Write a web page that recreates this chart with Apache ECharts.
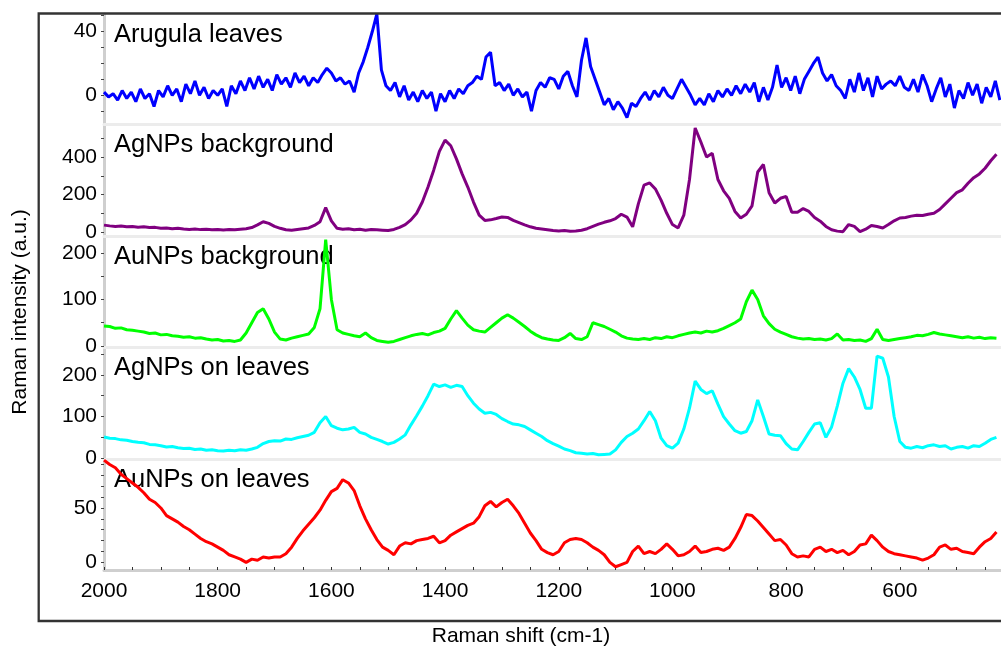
<!DOCTYPE html>
<html>
<head>
<meta charset="utf-8">
<script src="https://cdn.jsdelivr.net/npm/echarts@6/dist/echarts.min.js"></script>
<style>
  html, body { margin: 0; background: #fff; }
  #chart { width: 1001px; height: 649px; }
</style>
</head>
<body>
<div id="chart"></div>
<script>
// Raman shift grid: first point and spacing (cm-1) of each spectrum
const shiftStart = 2000;
const arugulaStep = 8;
const spectraStep = 10;

const arugula = [
  2, -1, 1, -3, 3, -2, 2, -4, 4, -2,
  1, -7, 3, -1, 6, 0, 4, -4, 7, 1,
  9, 0, 5, -2, 3, 0, 4, -7, 6, 1,
  9, 3, 11, 4, 12, 5, 10, 3, 13, 7,
  11, 5, 14, 8, 12, 6, 11, 8, 13, 17,
  14, 9, 11, 7, 9, 2, 14, 21, 30, 40,
  51, 16, 6, 3, 8, -1, 6, -3, 2, -4,
  3, -2, 2, -10, 1, -4, 3, -2, 4, 1,
  6, 8, 12, 10, 24, 27, 6, 8, 3, 7,
  0, 4, -1, 2, -10, 3, 8, 5, 11, 10,
  4, 12, 15, 6, -1, 22, 36, 18, 10, 2,
  -6, -2, -9, -4, -8, -14, -5, -7, -2, 2,
  -3, 3, -1, 5, 0, -2, 4, 10, 5, 0,
  -6, -2, -6, 1, -4, 3, -1, 4, 0, 6,
  1, 7, 2, 8, -4, 5, -3, 5, 19, 5,
  11, 3, 12, 1, 10, 15, 20, 24, 14, 9,
  13, 6, 3, -2, 10, 2, 14, 3, 11, -1,
  12, 4, 7, 9, 6, 12, 5, 3, 10, 2,
  13, 6, -4, 4, 11, -1, 7, -8, 3, -2,
  8, 0, 7, -5, 5, -1, 9, -3
];

const agBackground = [
  37, 33, 30, 32, 28, 30, 26, 28, 24, 25,
  20, 22, 18, 20, 16, 14, 16, 13, 15, 12,
  14, 11, 13, 12, 15, 18, 24, 38, 55, 46,
  30, 20, 12, 10, 14, 18, 22, 35, 55, 130,
  60, 20, 15, 18, 12, 15, 10, 14, 12, 10,
  8, 14, 25, 40, 65, 100, 160, 240, 330, 430,
  490, 460, 390, 310, 240, 160, 90, 62, 65, 72,
  80, 78, 62, 50, 38, 28, 20, 16, 12, 8,
  6, 8, 4, 6, 10, 18, 30, 42, 52, 60,
  72, 95, 80, 28, 150, 250, 262, 230, 170, 100,
  40, 22, 90, 280, 555, 480, 400, 420, 280, 220,
  180, 110, 75, 95, 140, 320, 360, 210, 155, 180,
  190, 105, 105, 125, 110, 78, 58, 30, 12, 5,
  2, 40, 30, 2, 15, 35, 30, 22, 40, 60,
  75, 78, 85, 90, 88, 95, 100, 120, 150, 180,
  210, 225, 260, 290, 310, 340, 380, 415
];

const auBackground = [
  43, 42, 38, 39, 35, 34, 32, 30, 27, 28,
  24, 25, 22, 21, 19, 20, 17, 18, 15, 13,
  14, 11, 12, 10, 13, 28, 50, 72, 80, 58,
  30, 15, 13, 17, 20, 23, 26, 40, 80, 228,
  100, 35, 28, 25, 22, 20, 28, 18, 12, 10,
  8, 10, 14, 18, 22, 25, 27, 24, 29, 32,
  38, 58, 76, 60, 45, 35, 32, 30, 40, 50,
  60, 67, 60, 51, 42, 32, 24, 18, 15, 13,
  12, 18, 27, 16, 14, 20, 50, 46, 42, 36,
  30, 22, 17, 15, 14, 16, 14, 18, 16, 20,
  18, 22, 25, 28, 30, 28, 32, 30, 33, 38,
  44, 50, 58, 95, 120, 100, 65, 48, 36, 30,
  25, 20, 17, 15, 16, 14, 15, 13, 16, 26,
  13, 14, 12, 13, 10, 16, 36, 14, 12, 14,
  16, 18, 20, 23, 22, 25, 29, 26, 24, 22,
  20, 18, 20, 17, 19, 16, 18, 17
];

const agLeaves = [
  51, 48, 47, 44, 43, 40, 38, 37, 33, 32,
  30, 27, 28, 25, 23, 24, 21, 22, 19, 20,
  18, 17, 19, 18, 20, 19, 22, 26, 35, 40,
  42, 41, 46, 45, 49, 52, 55, 62, 85, 100,
  78, 72, 68, 70, 74, 62, 58, 50, 45, 40,
  34, 38, 46, 56, 80, 102, 125, 150, 178, 172,
  176, 170, 175, 172, 150, 132, 118, 108, 110, 105,
  95, 88, 82, 80, 76, 68, 60, 52, 42, 35,
  29, 22, 18, 13, 12, 10, 11, 8, 9, 10,
  20, 38, 52, 60, 70, 90, 112, 90, 48, 30,
  24, 36, 70, 120, 185, 165, 155, 162, 130, 100,
  82, 66, 60, 64, 90, 140, 100, 58, 55, 54,
  35, 22, 20, 40, 62, 82, 85, 50, 75, 125,
  180, 215, 195, 165, 120, 120, 245, 240, 195, 100,
  40, 26, 24, 28, 25, 30, 32, 28, 30, 22,
  26, 28, 24, 30, 28, 36, 45, 50
];

const auLeaves = [
  94, 90, 87, 81, 77, 73, 69, 64, 58, 55,
  50, 43, 40, 37, 33, 30, 26, 22, 19, 17,
  14, 11, 7, 5, 3, 0, 3, 2, 5, 4,
  5, 5, 8, 14, 22, 29, 35, 41, 48, 57,
  65, 68, 76, 73, 66, 52, 40, 30, 21, 14,
  11, 7, 15, 18, 17, 20, 21, 22, 24, 18,
  20, 25, 28, 31, 34, 36, 42, 52, 56, 51,
  55, 58, 52, 45, 36, 27, 20, 12, 9, 7,
  10, 18, 21, 22, 21, 18, 14, 11, 7, 0,
  -4, -2, 0, 10, 15, 8, 10, 8, 12, 17,
  12, 6, 7, 10, 15, 9, 10, 12, 13, 11,
  14, 22, 32, 44, 43, 38, 32, 26, 20, 21,
  16, 8, 5, 6, 5, 12, 14, 10, 12, 9,
  11, 7, 10, 16, 17, 25, 20, 14, 10, 8,
  7, 6, 5, 4, 2, 4, 7, 14, 16, 12,
  13, 10, 9, 8, 14, 19, 22, 28
];

const panelNames = ['Arugula leaves', 'AgNPs background', 'AuNPs background', 'AgNPs on leaves', 'AuNPs on leaves'];
const xLabels = [2000, 1800, 1600, 1400, 1200, 1000, 800, 600];
const xTicks = [];
for (let v = 2000; v >= 450; v -= 50) xTicks.push(v);
const yLabels = [[0, 40], [0, 200, 400], [0, 100, 200], [0, 100, 200], [0, 50]];
const yTicks = [
  [-10, 0, 10, 20, 30, 40, 50],
  [0, 100, 200, 300, 400, 500],
  [0, 50, 100, 150, 200],
  [0, 50, 100, 150, 200, 250],
  [0, 10, 20, 30, 40, 50, 60, 70, 80, 90]
];
const yRange = [[-18, 51], [-21, 576], [-2, 236], [-2, 267], [-7, 95]];

const font = "'Liberation Sans', Arial, sans-serif";
const colors = ['#0000ff', '#800080', '#00ff00', '#00ffff', '#ff0000'];
const tops = [14, 124, 236, 347, 459];
const heights = [110, 112, 111, 112, 111];

const spectra = [
  { values: arugula, step: arugulaStep },
  { values: agBackground, step: spectraStep },
  { values: auBackground, step: spectraStep },
  { values: agLeaves, step: spectraStep },
  { values: auLeaves, step: spectraStep }
];

const toPairs = (s) => s.values.map((v, i) => [shiftStart - i * s.step, v]);
const plain = (v) => String(v);

const grid = tops.map((t, k) => ({ left: 104, right: 0, top: t, height: heights[k] }));

const xAxis = tops.map((t, k) => {
  const last = k === tops.length - 1;
  return {
    gridIndex: k,
    type: 'value',
    inverse: true,
    min: 422,
    max: 2000,
    axisLine: { show: true, onZero: false, lineStyle: { color: last ? '#cfcfcf' : '#ececec', width: 3 } },
    axisTick: { show: last, inside: true, length: 3, customValues: xTicks, lineStyle: { color: '#333', width: 1 } },
    axisLabel: { show: last, customValues: xLabels, formatter: plain, fontSize: 21, color: '#000', margin: 11, fontFamily: font },
    splitLine: { show: false }
  };
});

const yAxis = tops.map((t, k) => ({
  gridIndex: k,
  type: 'value',
  min: yRange[k][0],
  max: yRange[k][1],
  axisLine: { show: true, onZero: false, lineStyle: { color: '#cfcfcf', width: 3 } },
  axisTick: { show: true, length: 3, customValues: yTicks[k], lineStyle: { color: '#444', width: 1 } },
  axisLabel: { customValues: yLabels[k], formatter: plain, fontSize: 21, color: '#000', margin: 7, fontFamily: font },
  splitLine: { show: false }
}));

const series = spectra.map((s, k) => ({
  type: 'line',
  xAxisIndex: k,
  yAxisIndex: k,
  data: toPairs(s),
  showSymbol: false,
  symbol: 'none',
  lineStyle: { color: colors[k], width: 3 },
  z: 3
}));

const graphic = [
  {
    type: 'rect',
    shape: { x: 38.7, y: 13.5, width: 1000, height: 607.5 },
    style: { fill: 'none', stroke: '#333', lineWidth: 2.3 },
    z: 10
  },
  ...panelNames.map((name, k) => ({
    type: 'text',
    x: 114,
    y: tops[k] + 21,
    style: { text: name, font: '25.5px ' + font, fill: '#000', textAlign: 'left', textVerticalAlign: 'middle' },
    z: 1
  })),
  {
    type: 'text',
    x: 20,
    y: 312,
    rotation: Math.PI / 2,
    style: { text: 'Raman intensity (a.u.)', font: '21px ' + font, fill: '#000', textAlign: 'center', textVerticalAlign: 'middle' }
  },
  {
    type: 'text',
    x: 521,
    y: 636,
    style: { text: 'Raman shift (cm-1)', font: '21px ' + font, fill: '#000', textAlign: 'center', textVerticalAlign: 'middle' }
  }
];

const myChart = echarts.init(document.getElementById('chart'));
myChart.setOption({
  animation: false,
  backgroundColor: '#fff',
  grid,
  xAxis,
  yAxis,
  series,
  graphic
});
</script>
</body>
</html>
